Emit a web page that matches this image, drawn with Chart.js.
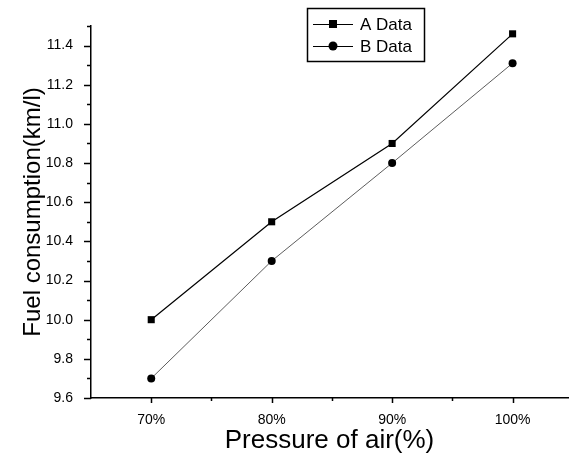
<!DOCTYPE html>
<html>
<head>
<meta charset="utf-8">
<script src="https://cdn.jsdelivr.net/npm/chart.js@4/dist/chart.umd.min.js"></script>
<style>
  html, body { margin: 0; padding: 0; background: #fff; }
  #wrap { width: 573px; height: 458px; }
</style>
</head>
<body>
<div id="wrap"><canvas id="fuelChart"></canvas></div>
<script>
// values
var pressure = [70, 80, 90, 100];
var aData = [10.0, 10.5, 10.9, 11.46];
var bData = [9.7, 10.3, 10.8, 11.31];
var seriesNames = ['A Data', 'B Data'];

var FONT = '"Liberation Sans", Arial, sans-serif';

// small outward tick marks, long on labelled values, short between
var tickMarks = {
  id: 'tickMarks',
  afterDraw: function (chart) {
    var ctx = chart.ctx;
    var xs = chart.scales.x, ys = chart.scales.y;
    ctx.save();
    ctx.strokeStyle = '#000';
    ctx.lineWidth = 1.5;
    ys.ticks.forEach(function (t) {
      var py = Math.round(ys.getPixelForValue(t.value)) + 0.5;
      var major = Math.round(t.value * 10) % 2 === 0;
      var len = major ? 7 : 4;
      ctx.beginPath();
      ctx.moveTo(xs.left - len, py);
      ctx.lineTo(xs.left, py);
      ctx.stroke();
    });
    xs.ticks.forEach(function (t) {
      var px = Math.round(xs.getPixelForValue(t.value)) + 0.5;
      var major = t.value % 10 === 0;
      var len = major ? 5 : 3;
      ctx.beginPath();
      ctx.moveTo(px, ys.bottom);
      ctx.lineTo(px, ys.bottom + len);
      ctx.stroke();
    });
    ctx.restore();
  }
};

// boxed legend with line + marker samples
var boxLegend = {
  id: 'boxLegend',
  afterDraw: function (chart) {
    var ctx = chart.ctx;
    ctx.save();
    ctx.strokeStyle = '#000';
    ctx.lineWidth = 1.5;
    ctx.strokeRect(307.5, 8.5, 117, 53);
    ctx.font = '17px ' + FONT;
    ctx.textBaseline = 'middle';
    ctx.fillStyle = '#000';
    chart.data.datasets.forEach(function (ds, i) {
      var y = 24 + i * 22;
      ctx.lineWidth = 1;
      ctx.beginPath();
      ctx.moveTo(313, y + 0.5);
      ctx.lineTo(353, y + 0.5);
      ctx.stroke();
      if (ds.pointStyle === 'rect') {
        ctx.fillRect(329, y - 4, 8, 8);
      } else {
        ctx.beginPath();
        ctx.arc(333, y, 4.5, 0, Math.PI * 2);
        ctx.fill();
      }
      ctx.fillText(seriesNames[i], 360, y + 1);
    });
    ctx.restore();
  }
};

document.addEventListener('DOMContentLoaded', function () {
  var canvas = document.getElementById('fuelChart');
  new Chart(canvas.getContext('2d'), {
    type: 'line',
    data: {
      datasets: [{
        label: seriesNames[0],
        data: pressure.map(function (p, i) { return { x: p, y: aData[i] }; }),
        borderColor: '#000',
        borderWidth: 1.2,
        pointStyle: 'rect',
        pointRadius: 5,
        pointBackgroundColor: '#000',
        pointBorderColor: '#000',
        pointBorderWidth: 0
      }, {
        label: seriesNames[1],
        data: pressure.map(function (p, i) { return { x: p, y: bData[i] }; }),
        borderColor: '#333',
        borderWidth: 0.8,
        pointStyle: 'circle',
        pointRadius: 4,
        pointBackgroundColor: '#000',
        pointBorderColor: '#000',
        pointBorderWidth: 0
      }]
    },
    options: {
      responsive: true,
      maintainAspectRatio: false,
      animation: false,
      layout: { padding: { top: 26, right: 0, left: 0, bottom: 0 } },
      plugins: {
        legend: { display: false },
        tooltip: { enabled: false }
      },
      scales: {
        x: {
          type: 'linear',
          min: 65,
          max: 104.6,
          afterBuildTicks: function (scale) {
            scale.ticks = [70, 75, 80, 85, 90, 95, 100].map(function (v) { return { value: v }; });
          },
          afterFit: function (scale) { scale.height = 60; },
          grid: { display: false },
          border: { display: true, color: '#000', width: 1.5 },
          ticks: {
            autoSkip: false,
            maxRotation: 0,
            padding: 6,
            color: '#000',
            font: { family: FONT, size: 14 },
            callback: function (v) { return v % 10 === 0 ? v + '%' : ''; }
          },
          title: {
            display: true,
            text: 'Pressure of air(%)',
            color: '#000',
            font: { family: FONT, size: 26 },
            padding: { top: 4, bottom: 2 }
          }
        },
        y: {
          min: 9.6,
          max: 11.5,
          afterFit: function (scale) { scale.width = 91; },
          grid: { display: false },
          border: { display: true, color: '#000', width: 1.5 },
          ticks: {
            stepSize: 0.1,
            autoSkip: false,
            padding: 10,
            color: '#000',
            font: { family: FONT, size: 14 },
            callback: function (v) {
              var n = Math.round(v * 10);
              return n % 2 === 0 ? (n / 10).toFixed(1) : '';
            }
          },
          title: {
            display: true,
            text: 'Fuel consumption(km/l)',
            color: '#000',
            font: { family: FONT, size: 24 },
            padding: { top: 19, bottom: 4 }
          }
        }
      }
    },
    plugins: [tickMarks, boxLegend]
  });
});
</script>
</body>
</html>
